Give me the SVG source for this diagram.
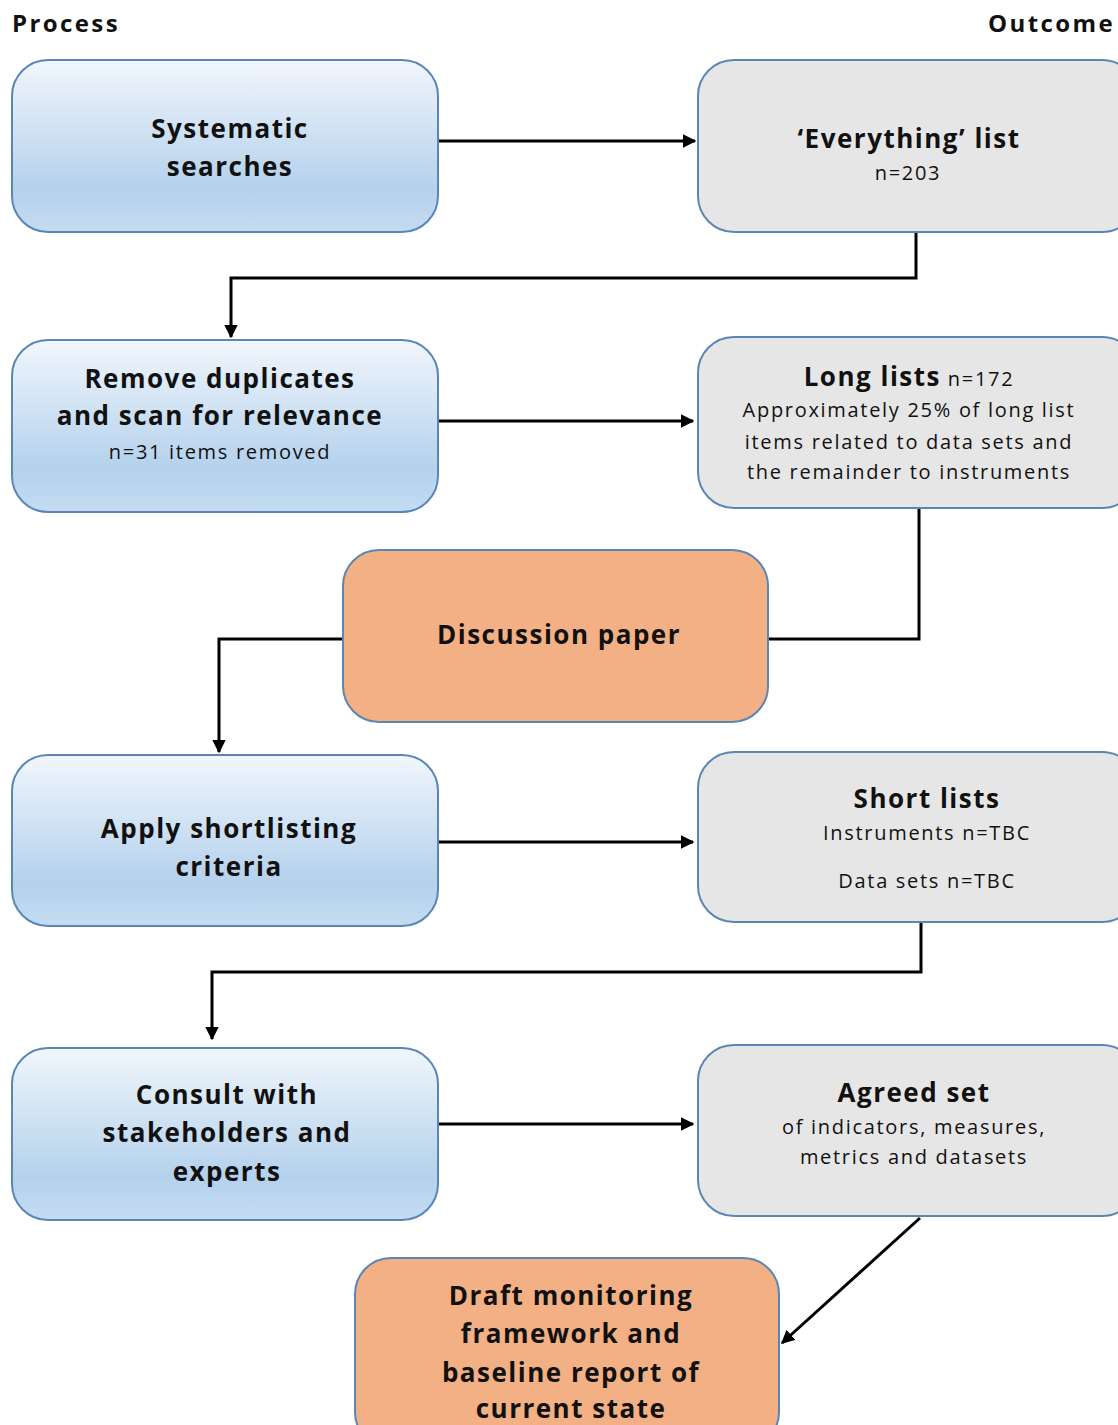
<svg xmlns="http://www.w3.org/2000/svg" width="1118" height="1425" viewBox="0 0 1118 1425">
  <defs>
    <linearGradient id="blueFill" x1="0" y1="0" x2="0" y2="1">
      <stop offset="0" stop-color="#f1f6fc"/>
      <stop offset="0.75" stop-color="#b4d1ec"/>
      <stop offset="1" stop-color="#c4dcf1"/>
    </linearGradient>
    <marker id="arrow" viewBox="0 0 10 10" refX="9" refY="5" markerWidth="4.5" markerHeight="4.5" orient="auto" markerUnits="strokeWidth">
      <path d="M0,0 L10,5 L0,10 z" fill="#000"/>
    </marker>
    <style>
      .proc { fill: url(#blueFill); stroke: #5a86b6; stroke-width: 2; }
      .out { fill: #e6e6e6; stroke: #5a86b6; stroke-width: 2; }
      .doc { fill: #f2b084; stroke: #5a86b6; stroke-width: 2; }
      .conn { fill: none; stroke: #000; stroke-width: 3; }
      text { font-family: "Open Sans", Lato, "Liberation Sans", sans-serif; fill: #111; text-anchor: middle; }
      .hd { font-size: 26px; font-weight: 700; letter-spacing: 1.5px; }
      .sub { font-size: 20px; font-weight: 400; letter-spacing: 1.7px; }
      .col { font-size: 24px; font-weight: 700; letter-spacing: 2.4px; }
    </style>
  </defs>

  <rect width="1118" height="1425" fill="#fff"/>

  <!-- column headings -->
  <text class="col" x="12" y="32" style="text-anchor:start">Process</text>
  <text class="col" x="1115" y="32" style="text-anchor:end">Outcome</text>

  <!-- connectors -->
  <g id="connectors">
    <path class="conn" d="M438,141 H695" marker-end="url(#arrow)"/>
    <path class="conn" d="M916,232 V278 H231 V337" marker-end="url(#arrow)"/>
    <path class="conn" d="M438,421 H693" marker-end="url(#arrow)"/>
    <path class="conn" d="M919,508 V639 H768"/>
    <path class="conn" d="M343,639 H219 V752" marker-end="url(#arrow)"/>
    <path class="conn" d="M438,842 H693" marker-end="url(#arrow)"/>
    <path class="conn" d="M921,922 V972 H212 V1039" marker-end="url(#arrow)"/>
    <path class="conn" d="M438,1124 H693" marker-end="url(#arrow)"/>
    <path class="conn" d="M920,1218 L782,1343" marker-end="url(#arrow)"/>
  </g>

  <!-- process steps and outcomes -->
  <g id="systematic-searches">
    <rect class="proc" x="12" y="60" width="426" height="172" rx="36"/>
    <text class="hd" x="230" y="138">Systematic</text>
    <text class="hd" x="230" y="176">searches</text>
  </g>

  <g id="everything-list">
    <rect class="out" x="698" y="60" width="440" height="172" rx="36"/>
    <text class="hd" x="909" y="148">‘Everything’ list</text>
    <text class="sub" x="908" y="180">n=203</text>
  </g>

  <g id="remove-duplicates">
    <rect class="proc" x="12" y="340" width="426" height="172" rx="36"/>
    <text class="hd" x="220" y="388">Remove duplicates</text>
    <text class="hd" x="220" y="425">and scan for relevance</text>
    <text class="sub" x="220" y="459">n=31 items removed</text>
  </g>

  <g id="long-lists">
    <rect class="out" x="698" y="337" width="440" height="171" rx="36"/>
    <text x="909" y="386"><tspan class="hd">Long lists</tspan><tspan class="sub"> n=172</tspan></text>
    <text class="sub" x="909" y="417">Approximately 25% of long list</text>
    <text class="sub" x="909" y="449">items related to data sets and</text>
    <text class="sub" x="909" y="479">the remainder to instruments</text>
  </g>

  <g id="discussion-paper">
    <rect class="doc" x="343" y="550" width="425" height="172" rx="36"/>
    <text class="hd" x="559" y="644">Discussion paper</text>
  </g>

  <g id="apply-shortlisting">
    <rect class="proc" x="12" y="755" width="426" height="171" rx="36"/>
    <text class="hd" x="229" y="838">Apply shortlisting</text>
    <text class="hd" x="229" y="876">criteria</text>
  </g>

  <g id="short-lists">
    <rect class="out" x="698" y="752" width="440" height="170" rx="36"/>
    <text class="hd" x="927" y="808">Short lists</text>
    <text class="sub" x="927" y="840">Instruments n=TBC</text>
    <text class="sub" x="927" y="888">Data sets n=TBC</text>
  </g>

  <g id="consult-stakeholders">
    <rect class="proc" x="12" y="1048" width="426" height="172" rx="36"/>
    <text class="hd" x="227" y="1104">Consult with</text>
    <text class="hd" x="227" y="1142">stakeholders and</text>
    <text class="hd" x="227" y="1181">experts</text>
  </g>

  <g id="agreed-set">
    <rect class="out" x="698" y="1045" width="440" height="171" rx="36"/>
    <text class="hd" x="914" y="1102">Agreed set</text>
    <text class="sub" x="914" y="1134">of indicators, measures,</text>
    <text class="sub" x="914" y="1164">metrics and datasets</text>
  </g>

  <g id="draft-framework">
    <rect class="doc" x="355" y="1258" width="424" height="190" rx="36"/>
    <text class="hd" x="571" y="1305">Draft monitoring</text>
    <text class="hd" x="571" y="1343">framework and</text>
    <text class="hd" x="571" y="1382">baseline report of</text>
    <text class="hd" x="571" y="1418">current state</text>
  </g>
</svg>
